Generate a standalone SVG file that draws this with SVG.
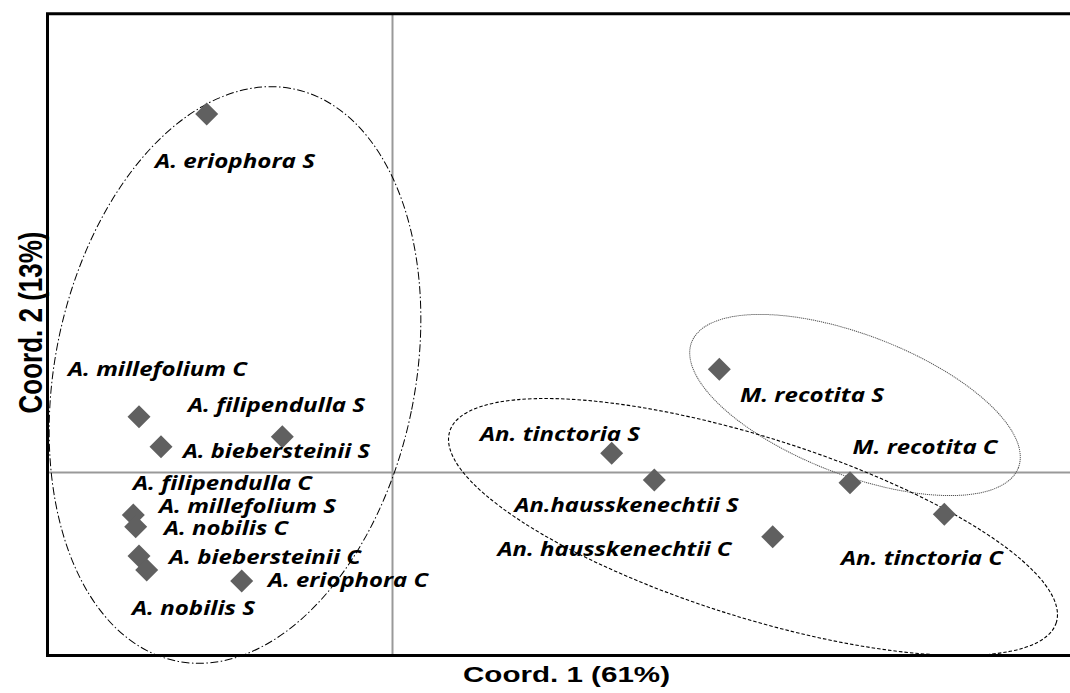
<svg xmlns="http://www.w3.org/2000/svg" xmlns:xlink="http://www.w3.org/1999/xlink" width="1070" height="693" viewBox="0 0 1070 693">
  <style>
    .lbl { font-family: "Open Sans", "Noto Sans", "Liberation Sans", sans-serif; font-weight: bold; font-style: italic; font-size: 20px; fill: #000; }
    .axt { font-family: "Liberation Sans", Arial, sans-serif; font-weight: bold; fill: #000; }
    .frame { fill: none; stroke: #000; stroke-width: 3; }
    .zero { fill: none; stroke: #999; stroke-width: 2; }
    .e1 { fill: none; stroke: #000; stroke-width: 1; stroke-dasharray: 8 2.5 1.5 2.5; }
    .e2 { fill: none; stroke: #555; stroke-width: 1; stroke-dasharray: 1.2 0.8; }
    .e3 { fill: none; stroke: #000; stroke-width: 1.1; stroke-dasharray: 3.5 2; }
  </style>
  <defs>
    <path id="dm" d="M0,-11.5 L11.5,0 L0,11.5 L-11.5,0 Z" fill="#606060"/>
  </defs>
  <rect x="0" y="0" width="1070" height="693" fill="#fff"/>

  <g id="axes">
    <line class="zero" x1="392.5" y1="14" x2="392.5" y2="655"/>
    <line class="zero" x1="47" y1="472.5" x2="1070" y2="472.5"/>
    <path class="frame" d="M1070,13.8 H47.5 V655.5 H1070"/>
    <text class="axt" font-size="22" x="463" y="682" textLength="207" lengthAdjust="spacingAndGlyphs">Coord. 1 (61%)</text>
    <text class="axt" font-size="26" text-anchor="middle" transform="translate(41.5,322.5) scale(1.3,1) rotate(-90)">Coord. 2 (13%)</text>
  </g>

  <g id="clusters">
    <ellipse class="e1" cx="235" cy="375" rx="180" ry="292" transform="rotate(11.6 235 375)"/>
    <ellipse class="e2" cx="855" cy="405" rx="175" ry="70" transform="rotate(21 855 405)"/>
    <ellipse class="e3" cx="753" cy="527" rx="318" ry="90" transform="rotate(17.5 753 527)"/>
  </g>

  <g id="connectors"></g>

  <g id="a-eriophora-s"><use xlink:href="#dm" x="206.7" y="114"/><text class="lbl" x="155" y="168" textLength="160" lengthAdjust="spacingAndGlyphs">A. eriophora S</text></g>
  <g id="a-millefolium-c"><use xlink:href="#dm" x="139" y="416.7"/><text class="lbl" x="68" y="376" textLength="179" lengthAdjust="spacingAndGlyphs">A. millefolium C</text></g>
  <g id="a-filipendulla-s"><use xlink:href="#dm" x="282.3" y="436.7"/><text class="lbl" x="188" y="412" textLength="177" lengthAdjust="spacingAndGlyphs">A. filipendulla S</text></g>
  <g id="a-biebersteinii-s"><use xlink:href="#dm" x="161" y="446.7"/><text class="lbl" x="183" y="458" textLength="187" lengthAdjust="spacingAndGlyphs">A. biebersteinii S</text></g>
  <g id="a-filipendulla-c"><use xlink:href="#dm" x="133.3" y="515"/><text class="lbl" x="133" y="490" textLength="179" lengthAdjust="spacingAndGlyphs">A. filipendulla C</text></g>
  <g id="a-millefolium-s"><use xlink:href="#dm" x="135.7" y="526.7"/><text class="lbl" x="159" y="513" textLength="177" lengthAdjust="spacingAndGlyphs">A. millefolium S</text></g>
  <g id="a-nobilis-c"><text class="lbl" x="164" y="535" textLength="124" lengthAdjust="spacingAndGlyphs">A. nobilis C</text></g>
  <g id="a-biebersteinii-c"><use xlink:href="#dm" x="139" y="556"/><text class="lbl" x="169" y="564" textLength="192" lengthAdjust="spacingAndGlyphs">A. biebersteinii C</text></g>
  <g id="a-nobilis-s"><use xlink:href="#dm" x="146.7" y="570"/><text class="lbl" x="132" y="615" textLength="123" lengthAdjust="spacingAndGlyphs">A. nobilis S</text></g>
  <g id="a-eriophora-c"><use xlink:href="#dm" x="241.7" y="581"/><text class="lbl" x="268" y="587" textLength="160" lengthAdjust="spacingAndGlyphs">A. eriophora C</text></g>

  <g id="m-recotita-s"><use xlink:href="#dm" x="719.3" y="369.3"/><text class="lbl" x="740" y="402" textLength="144" lengthAdjust="spacingAndGlyphs">M. recotita S</text></g>
  <g id="m-recotita-c"><use xlink:href="#dm" x="850" y="482.7"/><text class="lbl" x="852.5" y="454" textLength="145" lengthAdjust="spacingAndGlyphs">M. recotita C</text></g>
  <g id="an-tinctoria-s"><use xlink:href="#dm" x="611.7" y="453.3"/><text class="lbl" x="480" y="441" textLength="160" lengthAdjust="spacingAndGlyphs">An. tinctoria S</text></g>
  <g id="an-hausskenechtii-s"><use xlink:href="#dm" x="654.3" y="480"/><text class="lbl" x="514.5" y="511.5" textLength="224" lengthAdjust="spacingAndGlyphs">An.hausskenechtii S</text></g>
  <g id="an-hausskenechtii-c"><use xlink:href="#dm" x="772.7" y="536.7"/><text class="lbl" x="497.5" y="556" textLength="234" lengthAdjust="spacingAndGlyphs">An. hausskenechtii C</text></g>
  <g id="an-tinctoria-c"><use xlink:href="#dm" x="944.3" y="514.3"/><text class="lbl" x="841" y="565" textLength="162" lengthAdjust="spacingAndGlyphs">An. tinctoria C</text></g>
</svg>
